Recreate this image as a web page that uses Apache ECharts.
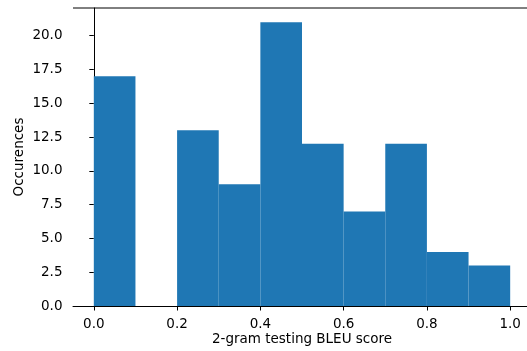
<!DOCTYPE html>
<html>
<head>
<meta charset="utf-8">
<script src="https://cdn.jsdelivr.net/npm/echarts@6/dist/echarts.min.js"></script>
<style>
  html, body { margin: 0; padding: 0; background: #fff; }
  #chart { width: 527px; height: 351px; }
</style>
</head>
<body>
<div id="chart"></div>
<script>
// Histogram of 2-gram BLEU scores on the test set (10 equal-width bins on [0, 1])
const binEdges = [0.0, 0.1, 0.2, 0.3, 0.4, 0.5, 0.6, 0.7, 0.8, 0.9, 1.0];
const binCounts = [17, 0, 13, 9, 21, 12, 7, 12, 4, 3];
const xTicks = [0.0, 0.2, 0.4, 0.6, 0.8, 1.0];
const yTicks = [0.0, 2.5, 5.0, 7.5, 10.0, 12.5, 15.0, 17.5, 20.0];

const bars = binCounts.map((c, i) => [binEdges[i], binEdges[i + 1], c]);

const xSpan = binEdges[binEdges.length - 1] - binEdges[0];
const xMin = binEdges[0] - 0.05 * xSpan;
const xMax = binEdges[binEdges.length - 1] + 0.05 * xSpan;
const yMax = Math.max(...binCounts) * 1.05;

const font = 'DejaVu Sans';
const fs = 13.5;
const ink = '#000';

const chart = echarts.init(document.getElementById('chart'), null, { renderer: 'canvas' });
chart.setOption({
  animation: false,
  backgroundColor: '#fff',
  grid: {
    left: 73, top: 8, width: 458, height: 298,
    containLabel: false,
    outerBoundsMode: 'none'
  },
  xAxis: {
    type: 'value',
    min: xMin,
    max: xMax,
    name: '2-gram testing BLEU score',
    nameLocation: 'middle',
    nameGap: 26,
    nameMoveOverlap: false,
    nameTextStyle: { fontFamily: font, fontSize: fs, color: ink },
    splitLine: { show: false },
    axisLine: { show: true, onZero: false, lineStyle: { color: ink, width: 1 } },
    axisTick: { show: true, length: 4.5, lineStyle: { color: ink, width: 1 }, customValues: xTicks },
    axisLabel: {
      fontFamily: font, fontSize: fs, color: ink, margin: 11.5,
      customValues: xTicks,
      formatter: v => v.toFixed(1)
    }
  },
  yAxis: {
    type: 'value',
    min: 0,
    max: yMax,
    name: 'Occurences',
    nameLocation: 'middle',
    nameGap: 47,
    nameMoveOverlap: false,
    nameRotate: 90,
    nameTextStyle: { fontFamily: font, fontSize: fs, color: ink },
    splitLine: { show: false },
    axisLine: { show: true, lineStyle: { color: ink, width: 1 } },
    axisTick: { show: true, length: 4.5, lineStyle: { color: ink, width: 1 }, customValues: yTicks },
    axisLabel: {
      fontFamily: font, fontSize: fs, color: ink, margin: 10.5,
      customValues: yTicks,
      formatter: v => v.toFixed(1)
    }
  },
  graphic: [{
    type: 'line',
    shape: { x1: 73, y1: 8, x2: 531, y2: 8 },
    style: { stroke: ink, lineWidth: 1 },
    silent: true
  }],
  series: [{
    type: 'custom',
    data: bars,
    encode: { x: [0, 1], y: 2 },
    renderItem: (params, api) => {
      const p0 = api.coord([api.value(0), 0]);
      const p1 = api.coord([api.value(1), api.value(2)]);
      return {
        type: 'rect',
        shape: { x: p0[0], y: p1[1], width: p1[0] - p0[0], height: p0[1] - p1[1] },
        style: { fill: '#1f77b4' }
      };
    }
  }]
});
</script>
</body>
</html>
